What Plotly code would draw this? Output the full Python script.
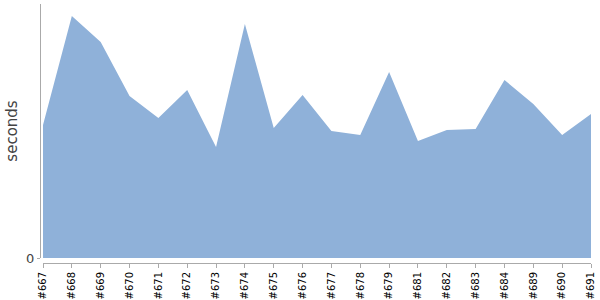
import plotly.graph_objects as go

builds = ["#667", "#668", "#669", "#670", "#671", "#672", "#673", "#674", "#675", "#676",
          "#677", "#678", "#679", "#681", "#682", "#683", "#684", "#689", "#690", "#691"]
seconds = [133, 242, 216, 162, 140, 168, 111, 234, 130, 163,
           127, 123, 186, 117, 128, 129, 178, 154, 123, 144]

fig = go.Figure()
fig.add_trace(go.Scatter(
    x=builds, y=seconds, mode="lines", fill="tozeroy",
    line=dict(width=0, color="#8fb1d9"), fillcolor="#8fb1d9",
    hoverinfo="x+y",
))

W, H = 600, 300
ml, mr, mt, mb = 40, 9, 4, 37
pw, ph = W - ml - mr, H - mt - mb

fig.update_layout(
    width=W, height=H,
    margin=dict(l=ml, r=mr, t=mt, b=mb, autoexpand=False),
    paper_bgcolor="white", plot_bgcolor="white",
    showlegend=False,
    font=dict(family="DejaVu Sans", color="#444"),
    xaxis=dict(
        type="category", domain=[3 / pw, 1], range=[0, len(builds) - 1],
        anchor="free", position=0, automargin=False,
        showline=True, linecolor="#aaa", linewidth=1,
        ticks="outside", ticklen=4, tickcolor="#aaa",
        tickangle=-90, tickfont=dict(size=10, color="#000"),
        showgrid=False, zeroline=False,
    ),
    yaxis=dict(
        domain=[5 / ph, 1], range=[0, 254],
        anchor="free", position=0, automargin=False,
        showline=True, linecolor="#aaa", linewidth=1,
        tickvals=[0], ticktext=["0"], ticks="outside", ticklen=3, tickcolor="#aaa",
        tickfont=dict(size=13, color="#444"),
        title=dict(text="seconds", font=dict(size=15, color="#444"), standoff=3),
        showgrid=False, zeroline=False,
    ),
)

fig.write_html("out.html")
